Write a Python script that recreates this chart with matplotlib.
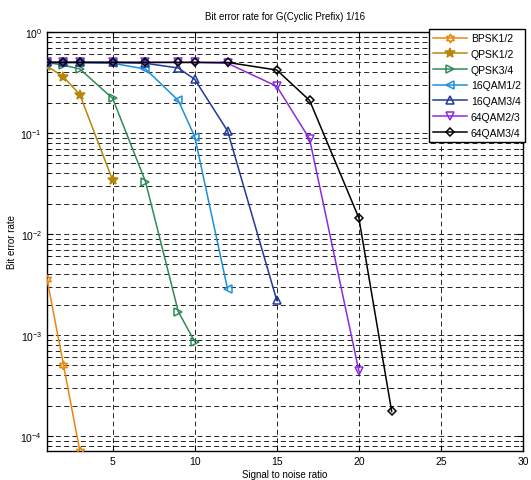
import matplotlib
matplotlib.use('Agg')
import matplotlib.pyplot as plt
from matplotlib.ticker import LogLocator, NullFormatter

plt.rcParams['font.family'] = ['Liberation Sans', 'DejaVu Sans']

# SNR points used in the simulation
snr = [1, 2, 3, 5, 7, 9, 10, 12, 15, 17, 20, 22]

# BER values per modulation
ber_bpsk12 = [3.6e-3, 5.1e-4, 7.1e-5]
ber_qpsk12 = [0.46, 0.36, 0.24, 0.034]
ber_qpsk34 = [0.50, 0.47, 0.43, 0.22, 0.033, 1.7e-3, 8.6e-4]
ber_16qam12 = [0.50, 0.50, 0.50, 0.49, 0.43, 0.21, 0.092, 2.85e-3]
ber_16qam34 = [0.50, 0.50, 0.50, 0.50, 0.49, 0.44, 0.34, 0.105, 2.2e-3]
ber_64qam23 = [0.50, 0.50, 0.50, 0.50, 0.50, 0.50, 0.50, 0.49, 0.29, 0.087, 4.4e-4]
ber_64qam34 = [0.50, 0.50, 0.50, 0.50, 0.50, 0.50, 0.50, 0.50, 0.42, 0.21, 0.0144, 1.75e-4]

labels = ['BPSK1/2', 'QPSK1/2', 'QPSK3/4', '16QAM1/2', '16QAM3/4', '64QAM2/3', '64QAM3/4']
series = [ber_bpsk12, ber_qpsk12, ber_qpsk34, ber_16qam12, ber_16qam34, ber_64qam23, ber_64qam34]
colors = ['#E8870E', '#B8860B', '#2E8B57', '#1E8FD8', '#1F3A9A', '#8A2BE2', '#000000']
markers = [(6, 1, 0), '*', '>', '<', '^', 'v', 'D']
msizes = [6.5, 7.5, 6, 6, 6, 6, 4.5]

fig = plt.figure(figsize=(5.31, 4.81), dpi=100)
ax = fig.add_axes([47 / 531, 29 / 481, 476 / 531, 419 / 481])

for ber, lab, c, m, ms in zip(series, labels, colors, markers, msizes):
    face = c if m == '*' else 'none'
    ax.semilogy(snr[:len(ber)], ber, color=c, marker=m, markersize=ms,
                markerfacecolor=face, markeredgecolor=c, markeredgewidth=1.1,
                linewidth=1.1, label=lab, zorder=3)

ax.set_xlim(1, 30)
ax.set_ylim(7.1e-5, 1)
ax.set_xticks([5, 10, 15, 20, 25, 30])
ax.yaxis.set_major_locator(LogLocator(base=10, numticks=10))
ax.yaxis.set_minor_locator(LogLocator(base=10, subs=range(2, 10), numticks=20))
ax.yaxis.set_minor_formatter(NullFormatter())

ax.grid(True, which='major', color='k', linestyle=(0, (6, 4)), linewidth=0.6)
ax.grid(True, which='minor', axis='y', color='k', linestyle=(0, (6, 4)), linewidth=0.6)

ax.tick_params(which='both', direction='in', top=True, right=True, labelsize=7.5)
ax.tick_params(which='major', length=4)
ax.tick_params(which='minor', length=2)
for s in ax.spines.values():
    s.set_linewidth(1.0)

ax.set_title('Bit error rate for G(Cyclic Prefix) 1/16', fontsize=7, pad=9)
ax.set_xlabel('Signal to noise ratio', fontsize=7, labelpad=2)
ax.set_ylabel('Bit error rate', fontsize=7)
ax.yaxis.set_label_coords(-0.062, 0.5)

leg = ax.legend(loc='upper right', bbox_to_anchor=(525 / 531, 1 - 30 / 481),
                bbox_transform=fig.transFigure, fontsize=7.5, fancybox=False,
                framealpha=1, edgecolor='k', borderpad=0.4, labelspacing=0.55,
                handlelength=3.2, handletextpad=0.4, borderaxespad=0)
leg.get_frame().set_linewidth(1.0)
leg.set_zorder(5)

fig.savefig('out.png', dpi=100)
